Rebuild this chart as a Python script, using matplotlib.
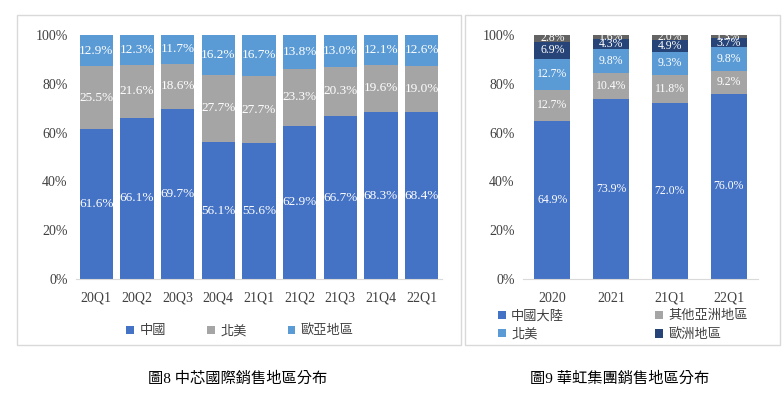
import matplotlib

matplotlib.use("Agg")
import matplotlib.pyplot as plt
import numpy as np
from matplotlib.patches import Rectangle

plt.rcParams["font.family"] = ["Liberation Serif", "Noto Sans CJK TC"]

# Fig 8: SMIC sales by region
smic_quarters = ["20Q1", "20Q2", "20Q3", "20Q4", "21Q1", "21Q2", "21Q3", "21Q4", "22Q1"]
smic_china = [61.6, 66.1, 69.7, 56.1, 55.6, 62.9, 66.7, 68.3, 68.4]
smic_na = [25.5, 21.6, 18.6, 27.7, 27.7, 23.3, 20.3, 19.6, 19.0]
smic_eurasia = [12.9, 12.3, 11.7, 16.2, 16.7, 13.8, 13.0, 12.1, 12.6]
smic_names = ["中國", "北美", "歐亞地區"]

# Fig 9: Hua Hong sales by region
hh_periods = ["2020", "2021", "21Q1", "22Q1"]
hh_china = [64.9, 73.9, 72.0, 76.0]
hh_other_asia = [12.7, 10.4, 11.8, 9.2]
hh_na = [12.7, 9.8, 9.3, 9.8]
hh_europe = [6.9, 4.3, 4.9, 3.7]
hh_rest = [2.8, 1.6, 2.0, 1.3]
hh_names = ["中國大陸", "其他亞洲地區", "北美", "歐洲地區"]

BLUE = "#4472C4"
GRAY = "#A5A5A5"
LIGHT = "#5B9BD5"
NAVY = "#264478"
DARKGRAY = "#636363"

W, H = 783, 399
fig = plt.figure(figsize=(W / 100, H / 100), dpi=100)


def px_axes(x0, y0, x1, y1):
    return fig.add_axes([x0 / W, 1 - y1 / H, (x1 - x0) / W, (y1 - y0) / H])


def panel(x0, y0, x1, y1):
    fig.patches.append(Rectangle((x0 / W, 1 - y1 / H), (x1 - x0) / W, (y1 - y0) / H,
                                 transform=fig.transFigure, fill=False,
                                 edgecolor="#d9d9d9", linewidth=1.0))


def stacked(ax, cats, series, colors, width, fontsize):
    x = np.arange(len(cats))
    bottom = np.zeros(len(cats))
    bars = []
    for vals, col in zip(series, colors):
        vals = np.array(vals)
        b = ax.bar(x, vals, width, bottom=bottom, color=col, linewidth=0)
        bars.append(b)
        for xi, v, bt in zip(x, vals, bottom):
            ax.text(xi, bt + v / 2, f"{v:.1f}%", ha="center", va="center",
                    color="white", fontsize=fontsize)
        bottom = bottom + vals
    ax.set_xlim(-0.5, len(cats) - 0.5)
    ax.set_ylim(0, 100)
    ax.set_yticks(range(0, 101, 20))
    ax.set_yticklabels([f"{t}%" for t in range(0, 101, 20)])
    ax.set_xticks(x)
    ax.set_xticklabels(cats)
    for s in ["top", "right", "left"]:
        ax.spines[s].set_visible(False)
    ax.spines["bottom"].set_color("#d9d9d9")
    ax.tick_params(length=0, labelsize=10, colors="#404040", pad=6)
    ax.tick_params(axis="x", pad=9)
    return bars


panel(17, 15, 461, 345)
panel(465, 15, 780, 345)

ax1 = px_axes(76, 35, 442, 279)
bars1 = stacked(ax1, smic_quarters, [smic_china, smic_na, smic_eurasia],
                [BLUE, GRAY, LIGHT], 0.82, 9.5)
ax1.legend([b[0] for b in bars1], smic_names, ncol=3, frameon=False,
           loc="center", bbox_to_anchor=(240 / W, 1 - 331 / H), bbox_transform=fig.transFigure,
           handlelength=0.6, handleheight=0.6, handletextpad=0.4, columnspacing=3.1,
           fontsize=9.5, labelcolor="#404040")

ax2 = px_axes(523, 35, 758, 279)
bars2 = stacked(ax2, hh_periods, [hh_china, hh_other_asia, hh_na, hh_europe, hh_rest],
                [BLUE, GRAY, LIGHT, NAVY, DARKGRAY], 0.61, 8.5)
handles = [bars2[0][0], bars2[2][0], bars2[1][0], bars2[3][0]]
labels = [hh_names[0], hh_names[2], hh_names[1], hh_names[3]]
ax2.legend(handles, labels, ncol=2, frameon=False, loc="upper left",
           bbox_to_anchor=(498 / W, 1 - 310 / H), bbox_transform=fig.transFigure,
           handlelength=0.6, handleheight=0.6, handletextpad=0.4, columnspacing=6.9,
           labelspacing=0.45, fontsize=9.5, labelcolor="#404040", borderaxespad=0, borderpad=0)

fig.text(238 / W, 1 - 379 / H, "圖8 中芯國際銷售地區分布", ha="center", va="center",
         fontsize=11, color="black")
fig.text(620 / W, 1 - 379 / H, "圖9 華虹集團銷售地區分布", ha="center", va="center",
         fontsize=11, color="black")

fig.savefig("out.png", dpi=100)
